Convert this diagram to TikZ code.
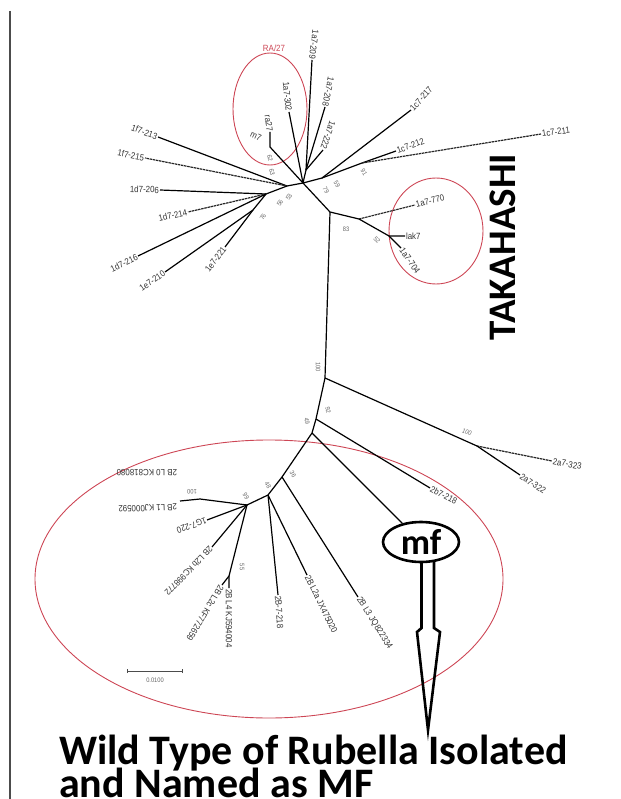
\documentclass[tikz,border=0pt]{standalone}
\usepackage{fontspec}
\usetikzlibrary{shapes.geometric}
\newfontfamily\lblfont{Liberation Sans}[FakeStretch=0.88]
\newfontfamily\bigfont{Carlito}[BoldFont={Carlito Bold}]
\newcommand\lbl{\lblfont\fontsize{9}{9}\selectfont}
\newcommand\bsf{\lblfont\fontsize{6.5}{6.5}\selectfont}
\definecolor{redc}{RGB}{205,70,85}
\tikzset{
  lab/.style={font=\lbl, text=black!80, inner sep=0.8pt},
  labw/.style={lab, anchor=west},
  labe/.style={lab, anchor=east},
  bs/.style={font=\bsf, text=black!60, inner sep=0pt},
  br/.style={line width=1.2pt, black},
  brd/.style={line width=1.2pt, black!85, dash pattern=on 2.5pt off 0.7pt},
  ring/.style={draw=redc, line width=0.9pt},
}
\begin{document}
\begin{tikzpicture}[x=1pt,y=-1pt]
\useasboundingbox (0,0) rectangle (620,799);
% frame
\draw[black!70, line width=1.4pt] (10,11) -- (10,799);
% ---------- coordinates
\coordinate (H) at (303,183);
\coordinate (K) at (330,212);
\coordinate (T1) at (359,219);
\coordinate (T2) at (389,236);
\coordinate (R) at (322,178);
\coordinate (J91) at (362,163);
\coordinate (HL) at (287,186);
\coordinate (L1) at (266,194);
\coordinate (L2) at (253,210);
\coordinate (U) at (306,170);
\coordinate (M1) at (270,147);
\coordinate (M0) at (270,132);
\coordinate (B1) at (325,378);
\coordinate (J100) at (477,446);
\coordinate (B2) at (316,419);
\coordinate (B3) at (312,433);
\coordinate (B4) at (282,477);
\coordinate (B5) at (268,495);
\coordinate (B6) at (247,505);
\coordinate (J100b) at (200,499);
\coordinate (J55) at (229,576);
% tips
\coordinate (t213) at (158,137);
\coordinate (t215) at (145,158);
\coordinate (t206) at (160,190);
\coordinate (t214) at (188,212);
\coordinate (t216) at (138,256);
\coordinate (t210) at (165,272);
\coordinate (t221) at (225,247);
\coordinate (t209) at (312,60);
\coordinate (t208) at (325,107);
\coordinate (t222) at (323,150);
\coordinate (t302) at (289,112);
\coordinate (t217) at (411,110);
\coordinate (t212) at (396,151);
\coordinate (t211) at (541,134);
\coordinate (t770) at (415,205);
\coordinate (tlak) at (405,236);
\coordinate (t704) at (401,248);
\coordinate (t323) at (552,461);
\coordinate (t322) at (520,475);
\coordinate (t218) at (430,488);
\coordinate (tL3) at (358,597);
\coordinate (tL2a) at (307,575);
\coordinate (t2b218) at (278,595);
\coordinate (tL4) at (229,588);
\coordinate (tL2c) at (222,585);
\coordinate (tL2b) at (212,547);
\coordinate (t1g220) at (207,520);
\coordinate (tL1) at (180,501);
% ---------- red rings
\draw[ring] (270,109) ellipse [x radius=37, y radius=56];
\draw[ring] (436,231) ellipse [x radius=47, y radius=53];
\draw[ring] (269,579) ellipse [x radius=234, y radius=139];
\node[font=\lbl, text=redc, inner sep=0pt] (ra) at (274,48) {RA/27};
% ---------- upper tree
\draw[br] (H) -- (K) -- (T1);
\draw[brd] (T1) -- (t770);
\draw[br] (T1) -- (T2) -- (tlak);
\draw[br] (T2) -- (t704);
\draw[br] (H) -- (R) -- (t217);
\draw[br] (R) -- (J91) -- (t212);
\draw[brd] (J91) -- (t211);
\draw[br] (H) -- (U) -- (t209);
\draw[br] (U) -- (t208);
\draw[br] (U) -- (t222);
\draw[br] (H) -- (t302);
\draw[br] (H) -- (M1) -- (M0);
\draw[br] (H) -- (HL) -- (t213);
\draw[brd] (HL) -- (t215);
\draw[br] (HL) -- (L1) -- (t206);
\draw[brd] (L1) -- (t214);
\draw[br] (L1) -- (t216);
\draw[br] (L1) -- (L2) -- (t210);
\draw[br] (L2) -- (t221);
% trunk
\draw[br] (K) -- (B1) -- (B2) -- (B3) -- (B4) -- (B5) -- (B6);
\draw[br] (B1) -- (J100);
\draw[brd] (J100) -- (t323);
\draw[br] (J100) -- (t322);
\draw[br] (B2) -- (t218);
\draw[br] (B4) -- (tL3);
\draw[br] (B5) -- (tL2a);
\draw[br] (B5) -- (t2b218);
\draw[br] (B6) -- (J55) -- (tL4);
\draw[br] (J55) -- (tL2c);
\draw[br] (B6) -- (tL2b);
\draw[br] (B6) -- (t1g220);
\draw[br] (B6) -- (J100b) -- (tL1);
% ---------- tip labels
\node[labe, rotate=-20] (n213) at (t213) {1f7-213};
\node[labe, rotate=-11] (n215) at (t215) {1f7-215};
\node[labe, rotate=-2] (n206) at (t206) {1d7-206};
\node[labe, rotate=13] (n214) at (t214) {1d7-214};
\node[labe, rotate=26] (n216) at (t216) {1d7-216};
\node[labe, rotate=35] (n210) at (t210) {1e7-210};
\node[labe, rotate=53] (n221) at (t221) {1e7-221};
\node[labe, rotate=-97] (n209) at (t209) {1a7-209};
\node[labe, rotate=-102] (n208) at (t208) {1a7-208};
\node[labe, rotate=-109] (n222) at (t222) {1a7-222};
\node[labe, rotate=-84] (n302) at (t302) {1a7-302};
\node[labe, rotate=-82] (nra) at (M0) {ra27};
\node[lab, rotate=-25] (nm7) at (256,136) {m7};
\node[labw, rotate=48] (n217) at (t217) {1c7-217};
\node[labw, rotate=20] (n212) at (t212) {1c7-212};
\node[labw, rotate=8] (n211) at (t211) {1c7-211};
\node[labw, rotate=14] (n770) at (t770) {1a7-770};
\node[labw] (nlak) at (tlak) {lak7};
\node[labw, rotate=-55] (n704) at (t704) {1a7-704};
\node[labw, rotate=-11] (n323) at (t323) {2a7-323};
\node[labw, rotate=-34] (n322) at (t322) {2a7-322};
\node[labw, rotate=-28] (n218) at (t218) {2b7-218};
\node[labw, rotate=-58] (nL3) at (tL3) {2B L3 JQ822334};
\node[labw, rotate=-64] (nL2a) at (tL2a) {2B L2a JX475020};
\node[labw, rotate=-86] (n2b218) at (t2b218) {2B-7-218};
\node[labw, rotate=-90] (nL4) at (tL4) {2B L4 KJ594004};
\node[labw, rotate=-121] (nL2c) at (tL2c) {2B L2c KF772659};
\node[labw, rotate=-134] (nL2b) at (tL2b) {2B L2b KC998772};
\node[labw, rotate=200] (n1g220) at (t1g220) {1G7-220};
\node[labw, rotate=182] (nL1) at (178,507) {2B L1 KJ000592};
\node[labw, rotate=180] (nL0) at (178,473) {2B L0 KC818080};
% ---------- bootstrap values
\node[bs, rotate=-60] at (364,172) {91};
\node[bs, rotate=-60] at (337,184) {59};
\node[bs, rotate=-60] at (326,190) {79};
\node[bs, rotate=-80] at (270,158) {62};
\node[bs, rotate=-80] at (272,172) {63};
\node[bs, rotate=60] at (263,217) {76};
\node[bs, rotate=60] at (280,203) {56};
\node[bs, rotate=60] at (289,197) {53};
\node[bs] at (346,229) {83};
\node[bs, rotate=-45] at (377,240) {52};
\node[bs, rotate=-90] at (318,367) {100};
\node[bs, rotate=-25] at (467,432) {100};
\node[bs, rotate=-80] at (328,410) {92};
\node[bs, rotate=-80] at (307,421) {49};
\node[bs, rotate=-60] at (293,474) {36};
\node[bs, rotate=-60] at (268,485) {48};
\node[bs, rotate=-60] at (246,496) {99};
\node[bs, rotate=180] at (192,492) {100};
\node[bs, rotate=-90] at (242,567) {55};
% scale bar
\coordinate (sb1) at (127,671);
\coordinate (sb2) at (182,671);
\draw[black!70, line width=0.8pt] (sb1) -- (sb2);
\draw[black!70, line width=0.8pt] ([yshift=-2]sb1) -- ([yshift=2]sb1);
\draw[black!70, line width=0.8pt] ([yshift=-2]sb2) -- ([yshift=2]sb2);
\node[bs] (sbl) at (155,680) {0.0100};
% ---------- TAKAHASHI
\node[rotate=90, font=\bigfont\bfseries\fontsize{39}{39}\selectfont, inner sep=0pt] (tak) at (503,247) {TAKAHASHI};
% ---------- mf
\node[draw, ellipse, line width=2.6pt, minimum width=76, minimum height=40, inner sep=0pt,
      font=\bigfont\bfseries\fontsize{36}{36}\selectfont] (mf) at (421,542) {mf};
\draw[br] (B3) -- (mf);
\coordinate (ah) at (428,730);
\draw[line width=2.6pt, line join=miter] (421.5,562) -- (421.5,628) -- (417,632) -- (ah) -- (440,632) -- (434,628) -- (434,562);
% ---------- caption
\node[anchor=base west, inner sep=0pt, font=\bigfont\bfseries\fontsize{42}{42}\selectfont] (cap1) at (59,764) {Wild Type of Rubella Isolated};
\node[anchor=base west, inner sep=0pt, font=\bigfont\bfseries\fontsize{42}{42}\selectfont] (cap2) at (59,797) {and Named as MF};
\end{tikzpicture}
\end{document}
